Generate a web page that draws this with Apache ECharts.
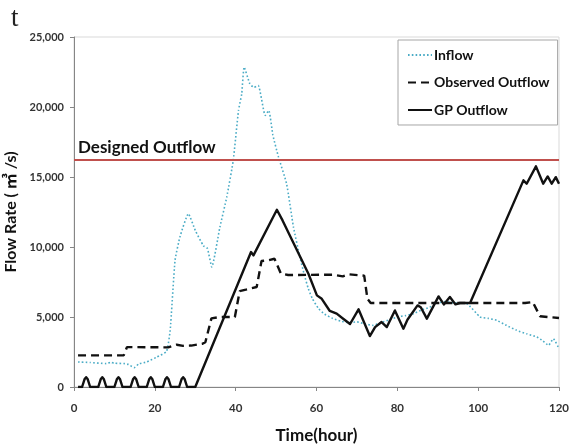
<!DOCTYPE html>
<html>
<head>
<meta charset="utf-8">
<script src="https://cdn.jsdelivr.net/npm/echarts@6/dist/echarts.min.js"></script>
<style>
  html, body { margin: 0; padding: 0; background: #fff; }
  #chart { width: 569px; height: 446px; }
</style>
</head>
<body>
<div id="chart"></div>
<script>
// hour / flow (m3/s)
var inflowHours = [1, 4, 8, 9, 10, 12.6, 13.5, 14.9, 16, 18, 20.5, 22.9, 23.8, 25, 26.2, 28.3, 30, 32, 33, 34.1, 36.1, 37.8, 39.4, 40.7, 41.5, 42.1, 43.5, 44.5, 45.6, 47.3, 48.2, 49.2, 50.6, 52.6, 54.3, 55.9, 57, 58, 59, 60.5, 62, 64, 66, 68, 70, 72, 74, 76, 78, 80, 82, 84, 86, 88, 90, 92, 94, 97.2, 100.5, 102.5, 104.6, 107, 109.5, 112, 114.5, 116, 117.4, 118.6, 120];
var inflowFlow = [1790, 1750, 1670, 1760, 1700, 1670, 1600, 1380, 1650, 1790, 2140, 2550, 4050, 9040, 10700, 12380, 11190, 10100, 9900, 8570, 11420, 13570, 16180, 19750, 20940, 22850, 21660, 21400, 21540, 19400, 19750, 18000, 16420, 14520, 11420, 9280, 8000, 7000, 6300, 5600, 5200, 4900, 4700, 4600, 4650, 4500, 4400, 4600, 4800, 5000, 5100, 5240, 5500, 5700, 6000, 6100, 6000, 5950, 5000, 4900, 4760, 4400, 4050, 3800, 3570, 3300, 2975, 3450, 2740];

var observedHours = [1, 12.3, 13.1, 23.3, 25.4, 27, 29, 31.8, 32.5, 34, 36, 39.8, 41, 42.5, 45.2, 46.4, 48, 49.6, 51.2, 53, 64, 66.5, 68, 71.8, 72.6, 73.4, 111.6, 113.5, 115.3, 120];
var observedFlow = [2260, 2260, 2850, 2830, 3020, 2940, 2960, 3090, 3200, 4900, 5000, 5000, 6850, 6950, 7140, 9000, 9050, 9160, 8100, 8000, 8020, 7900, 8050, 7950, 6300, 6000, 6000, 6070, 5050, 4930];

var gpHours = [1, 2, 2.6, 3, 3.4, 4, 6, 6.6, 7, 7.4, 8, 10, 10.6, 11, 11.4, 12, 14, 14.6, 15, 15.4, 16, 18, 18.6, 19, 19.4, 20, 22, 22.6, 23, 23.4, 24, 26, 26.6, 27, 27.4, 28, 30, 43.8, 44.4, 50.2, 51.6, 58, 60.1, 61.3, 63.3, 65, 66.6, 68.3, 70.4, 73.2, 74.5, 76.1, 77.4, 79.4, 81.5, 82.5, 85, 85.8, 87.3, 90.2, 91.5, 93, 94.4, 95.5, 98, 111.2, 112, 114.3, 116.1, 117.2, 118.2, 119.2, 120];
var gpFlow = [0, 0, 550, 700, 550, 0, 0, 550, 700, 550, 0, 0, 550, 700, 550, 0, 0, 550, 700, 550, 0, 0, 550, 700, 550, 0, 0, 550, 700, 550, 0, 0, 550, 700, 550, 0, 0, 9640, 9400, 12660, 11900, 8090, 6545, 6300, 5430, 5240, 4880, 4500, 5550, 3640, 4280, 4640, 4280, 5470, 4165, 4800, 5830, 5700, 4880, 6470, 5900, 6430, 5900, 6000, 6000, 14760, 14520, 15760, 14520, 15040, 14520, 14990, 14520];

var designedOutflow = 16200;

var hourTicks = [0, 20, 40, 60, 80, 100, 120];
var flowTicks = [0, 5000, 10000, 15000, 20000, 25000];

function pairs(xs, ys) {
  var out = [];
  for (var i = 0; i < xs.length; i++) out.push([xs[i], ys[i]]);
  return out;
}

var font = 'Lato, "Noto Sans CJK KR", sans-serif';
var chart = echarts.init(document.getElementById('chart'));

var option = {
  animation: false,
  title: {
    text: 't',
    left: 6,
    top: 0,
    textStyle: { fontFamily: '"Liberation Serif", "DejaVu Serif", serif', fontSize: 27, fontWeight: 'normal', color: '#222' }
  },
  legend: {
    orient: 'vertical',
    left: 398,
    top: 40,
    padding: [8, 8, 8, 9],
    itemWidth: 24,
    itemHeight: 14,
    itemGap: 13.5,
    backgroundColor: '#fff',
    borderColor: '#a6a6a6',
    borderWidth: 1,
    borderRadius: 0,
    itemStyle: { opacity: 0 },
    data: ['Inflow', 'Observed Outflow', 'GP Outflow'],
    textStyle: { fontFamily: font, fontSize: 14, fontWeight: 'bold', color: '#111', padding: [0, 0, 0, -3] }
  },
  grid: {
    left: 74,
    right: 10,
    top: 37,
    bottom: 59,
    outerBoundsMode: 'none',
    show: true,
    borderColor: '#d9d9d9',
    borderWidth: 1
  },
  xAxis: {
    type: 'value',
    min: hourTicks[0],
    max: hourTicks[hourTicks.length - 1],
    interval: 20,
    name: 'Time(hour)',
    nameLocation: 'middle',
    nameGap: 40,
    nameTextStyle: { fontFamily: font, fontSize: 17, fontWeight: 'bold', color: '#111' },
    axisLine: { lineStyle: { color: '#868686', width: 1 } },
    axisTick: { show: true, length: 4, lineStyle: { color: '#868686' } },
    axisLabel: { margin: 16, fontFamily: font, fontSize: 11.5, fontWeight: 'bold', color: '#333' },
    splitLine: { show: false }
  },
  yAxis: {
    type: 'value',
    min: flowTicks[0],
    max: flowTicks[flowTicks.length - 1],
    interval: 5000,
    name: 'Flow Rate ( \u33a5 /s)',
    nameLocation: 'middle',
    nameRotate: 90,
    nameGap: 45,
    nameTextStyle: { fontFamily: font, fontSize: 16, fontWeight: 'bold', color: '#111' },
    axisLine: { show: true, lineStyle: { color: '#868686', width: 1 } },
    axisTick: { show: true, length: 4, lineStyle: { color: '#868686' } },
    axisLabel: {
      margin: 10,
      fontFamily: font,
      fontSize: 11,
      fontWeight: 'bold',
      color: '#333',
      formatter: function (v) { return v.toLocaleString('en-US'); }
    },
    splitLine: { show: false }
  },
  series: [
    {
      name: 'Inflow',
      type: 'line',
      data: pairs(inflowHours, inflowFlow),
      symbol: 'none',
      smooth: 0.15,
      color: '#4bacc6',
      lineStyle: { color: '#4bacc6', width: 1.6, type: [1.6, 2.2] },
      z: 2
    },
    {
      name: 'Observed Outflow',
      type: 'line',
      data: pairs(observedHours, observedFlow),
      symbol: 'none',
      color: '#111',
      lineStyle: { color: '#111', width: 2.4, type: [8, 5] },
      z: 3
    },
    {
      name: 'GP Outflow',
      type: 'line',
      data: pairs(gpHours, gpFlow),
      symbol: 'none',
      color: '#111',
      lineStyle: { color: '#111', width: 2.4, join: 'round' },
      z: 4,
      markLine: {
        silent: true,
        symbol: 'none',
        lineStyle: { color: '#c0504d', width: 2, type: 'solid' },
        label: {
          position: 'insideStartTop',
          formatter: 'Designed Outflow',
          fontFamily: font,
          fontSize: 17,
          fontWeight: 'bold',
          color: '#111',
          distance: [4, 4]
        },
        data: [{ yAxis: designedOutflow }]
      }
    }
  ]
};

chart.setOption(option);
</script>
</body>
</html>
